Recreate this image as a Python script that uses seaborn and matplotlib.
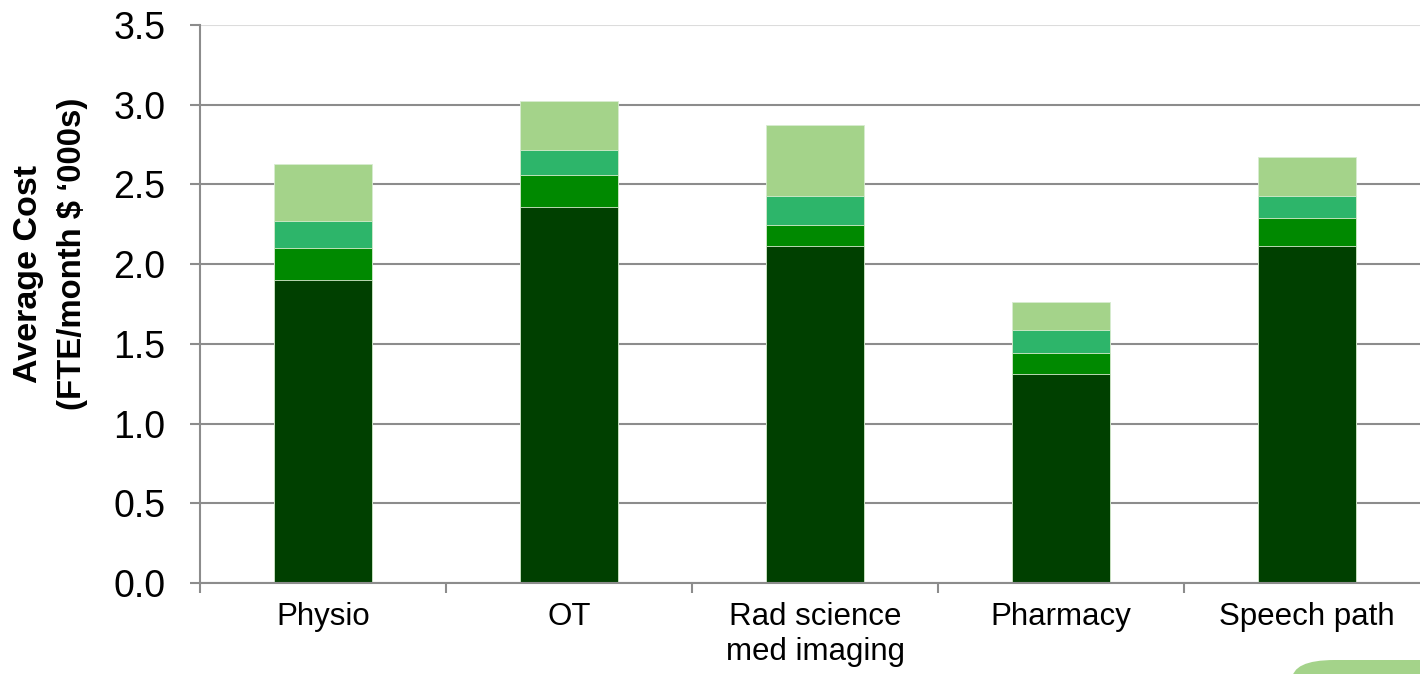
import pandas as pd
import seaborn as sns
import matplotlib.pyplot as plt
from matplotlib.patches import FancyBboxPatch

# values (FTE/month, $ '000s)
professions = ["Physio", "OT", "Rad science\nmed imaging", "Pharmacy", "Speech path"]
seg1 = [1.90, 2.36, 2.115, 1.31, 2.115]
seg2 = [0.20, 0.20, 0.13, 0.135, 0.175]
seg3 = [0.17, 0.155, 0.185, 0.14, 0.14]
seg4 = [0.355, 0.31, 0.44, 0.175, 0.24]
seg_colors = ["#004000", "#008900", "#2db56a", "#a4d38a"]
y_ticks = [0.0, 0.5, 1.0, 1.5, 2.0, 2.5, 3.0, 3.5]

sns.set_theme(style="white")
plt.rcParams["font.family"] = ["Liberation Sans", "DejaVu Sans"]
plt.rcParams["text.color"] = "black"

df = pd.DataFrame(
    {"profession": professions, "s1": seg1, "s2": seg2, "s3": seg3, "s4": seg4}
)
cum = df[["s1", "s2", "s3", "s4"]].cumsum(axis=1)
cum["profession"] = df["profession"]

fig = plt.figure(figsize=(14.2, 6.74), dpi=100)
ax = fig.add_axes([200 / 1420, 1 - 583 / 674, 1230 / 1420, 558 / 674])

# draw cumulative totals from the top down so lower segments overlay
for col, color in zip(["s4", "s3", "s2", "s1"], seg_colors[::-1]):
    sns.barplot(
        data=cum,
        x="profession",
        y=col,
        color=color,
        width=0.4,
        saturation=1,
        edgecolor="#d8ecd0",
        linewidth=0.6,
        ax=ax,
    )

ax.set_xlim(-0.5, 4.5)
ax.set_ylim(0, 3.5)
ax.set_yticks(y_ticks)
ax.set_yticklabels([f"{v:.1f}" for v in y_ticks])
ax.set_xlabel("")
ax.set_ylabel("")

ax.set_axisbelow(True)
ax.yaxis.grid(True, color="#8c8c8c", linewidth=1.5)
ax.xaxis.grid(False)
ax.get_ygridlines()[-1].set_color("#dcdcdc")

for side in ["top", "right"]:
    ax.spines[side].set_visible(False)
for side in ["left", "bottom"]:
    ax.spines[side].set_color("#8c8c8c")
    ax.spines[side].set_linewidth(1.5)

ax.tick_params(axis="y", which="major", left=True, length=7, width=1.5,
               color="#8c8c8c", labelsize=27, pad=18, labelcolor="black")
ax.set_xticks([-0.5, 0.5, 1.5, 2.5, 3.5], minor=True)
ax.tick_params(axis="x", which="minor", bottom=True, length=7, width=1.5,
               color="#8c8c8c")
ax.tick_params(axis="x", which="major", bottom=False, length=0, labelsize=22.5,
               pad=14, labelcolor="black")

fig.text(29 / 1420, 1 - 274 / 674, "Average Cost", rotation=90, color="black",
         ha="center", va="center", fontsize=24.5, fontweight="bold")
fig.text(73 / 1420, 1 - 254 / 674, "(FTE/month $ \u2018000s)", rotation=90,
         color="black", ha="center", va="center", fontsize=23.7,
         fontweight="bold")

# decorative rounded shape peeking in at bottom right
fig.patches.append(
    FancyBboxPatch((1292 / 1420, -0.1), 0.2, 0.1 + 14 / 674,
                   boxstyle="round,pad=0,rounding_size=0.03",
                   transform=fig.transFigure, facecolor="#a4d38a",
                   edgecolor="none", figure=fig)
)

fig.savefig("out.png", dpi=100)
